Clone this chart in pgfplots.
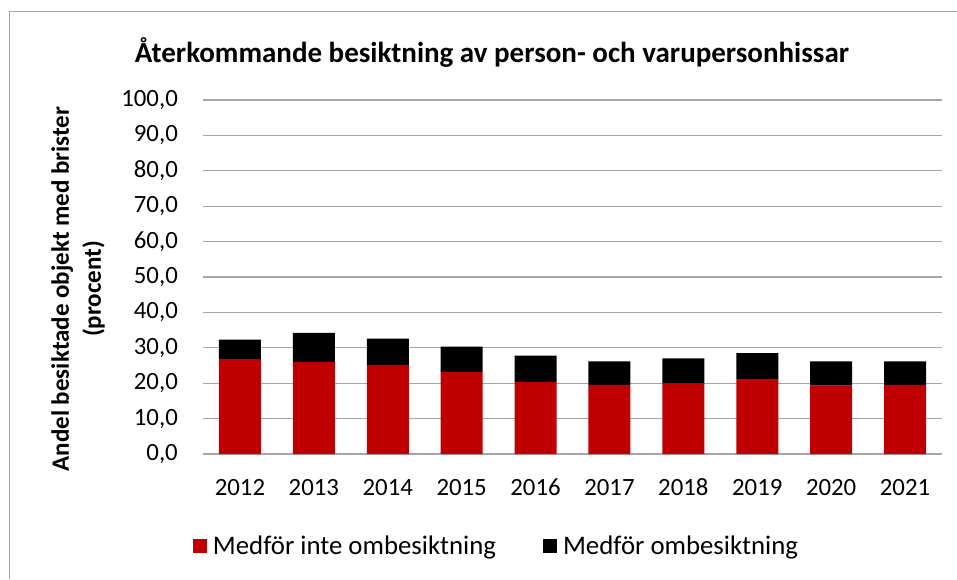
\documentclass[border=0pt]{standalone}
\usepackage{pgfplots}
\pgfplotsset{compat=1.18}
\usepackage{fontspec}
\setmainfont{Carlito}
\definecolor{barred}{RGB}{192,0,0}
\definecolor{gridgray}{RGB}{166,166,166}
\begin{document}
\begin{tikzpicture}[x=1pt,y=1pt]
\useasboundingbox (0,0) rectangle (957,579);
\draw[gridgray, line width=1.2pt] (9.5,0) -- (9.5,567.5) -- (957,567.5);
\node[font=\fontsize{29}{34}\selectfont\bfseries] at (492,527) {Återkommande besiktning av person- och varupersonhissar};
\node[rotate=90, align=center, font=\fontsize{25}{32}\selectfont\bfseries] at (78,290) {Andel besiktade objekt med brister\\(procent)};
\begin{axis}[
  at={(203pt,125pt)}, anchor=south west,
  scale only axis, width=739pt, height=354pt,
  ymin=0, ymax=100, xmin=-0.5, xmax=9.5,
  ybar stacked, bar width=42pt,
  xtick={0,...,9},
  xticklabels={2012,2013,2014,2015,2016,2017,2018,2019,2020,2021},
  ytick={0,10,...,100},
  /pgf/number format/assume math mode=true,
  yticklabel={\pgfmathprintnumber[fixed,fixed zerofill,precision=1,use comma]{\tick}},
  ymajorgrids, grid style={gridgray, line width=1.1pt},
  axis x line*=bottom, axis y line*=left,
  x axis line style={gridgray, line width=1.1pt, -},
  y axis line style={draw=none},
  major tick length=0pt,
  tick label style={font=\fontsize{24.8}{29}\selectfont, inner sep=0pt},
  yticklabel style={anchor=east, xshift=-25pt},
  xticklabel style={anchor=base, yshift=-41pt},
  legend columns=2,
  legend style={at={(axis description cs:0.5,0)}, anchor=center, xshift=-74pt, yshift=-92pt,
    draw=none, fill=none, font=\fontsize{26.8}{30}\selectfont, inner xsep=0pt, inner ysep=0pt,
    nodes={inner xsep=6pt},
    /tikz/every even column/.append style={column sep=41pt}},
  legend image code/.code={\fill[#1] (0pt,-7pt) rectangle (14pt,7pt);},
]
\addplot[fill=barred, draw=none] coordinates {(0,26.8) (1,26.0) (2,25.2) (3,23.1) (4,20.4) (5,19.5) (6,19.9) (7,21.2) (8,19.3) (9,19.5)};
\addplot[fill=black, draw=none] coordinates {(0,5.5) (1,8.2) (2,7.4) (3,7.2) (4,7.4) (5,6.7) (6,7.1) (7,7.3) (8,6.9) (9,6.7)};
\legend{Medför inte ombesiktning, Medför ombesiktning}
\end{axis}
\end{tikzpicture}
\end{document}
